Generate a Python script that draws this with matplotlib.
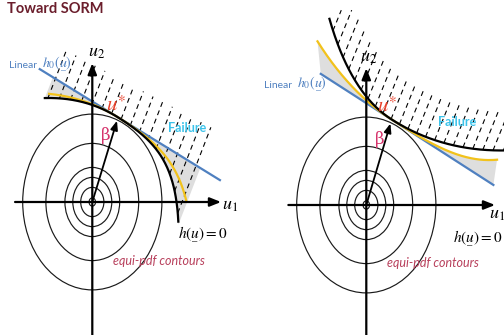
import numpy as np
import matplotlib.pyplot as plt
from matplotlib.patches import Ellipse, Polygon

plt.rcParams['mathtext.fontset'] = 'stix'
SANS = ['Lato', 'Liberation Sans', 'DejaVu Sans']

W, H = 504, 335
SX, SY = 23.2, 29.3          # pixels per unit of u1 and u2 (picture is squashed)

# equi-pdf contour radii (same in both panels)
radii = [3.0, 2.0, 1.18, 0.84, 0.5, 0.14]

# ---- left panel: h(u)=0 bends toward the origin
L_origin = (92.3, 202.0)
L_star = (3.1, 70.0)                 # |u*|, angle in degrees
L_normal = 64.0                      # normal direction of linear h0
L_beta = (2.97, 69.0)                # arrow length, angle
L_blue_t = (-3.7, 4.94)
L_black_t = (-3.07, 3.95)
L_black_k = (0.084, 0.040, 0.0059)   # t<0: k0 t^2 ; t>0: k1 t^2 + k2 t^4
L_yellow_t = (-2.97, 3.97)
L_yellow_k = (0.066, 0.027, 0.0035)
L_shade_t = (-3.07, 4.0)
L_hatch_t = (-2.95, 4.0, 0.45)
L_hatch_top = (1.24, 0.055)

# ---- right panel: h(u)=0 bends away from the origin
R_origin = (366.3, 205.0)
R_star = (3.12, 70.0)
R_normal = 63.0
R_beta = (2.97, 69.5)
R_blue_t = (-3.40, 4.95)
R_black_t = (-3.92, 4.9)
R_black_k = (0.12, 0.054, 0.0)
R_yellow_t = (-4.03, 4.7)
R_yellow_k = (0.057, 0.0115, 0.0012)
R_hatch_t = (-3.6, 4.8, 0.40)
R_hatch_len = 1.55
R_hatch_ymax = 6.65                  # dashes stop just under the top edge

BLUE = '#4f80c0'
YELLOW = '#f2c21b'
GRAY = '#dedede'


def offset(t, k):
    t = np.asarray(t, float)
    return np.where(t < 0, k[0] * t**2, k[1] * t**2 + k[2] * t**4)


def frame(star, normal):
    a, b = np.radians(star[1]), np.radians(normal)
    p = star[0] * np.array([np.cos(a), np.sin(a)])
    d = np.array([np.sin(b), -np.cos(b)])
    e = np.array([np.cos(b), np.sin(b)])
    return p, d, e


def to_u(fr, t, s):
    p, d, e = fr
    t = np.asarray(t, float)
    s = np.asarray(s, float)
    return p[0] + t * d[0] + s * e[0], p[1] + t * d[1] + s * e[1]


def arrow(ax, a, b, lw, hl=0.55, hw=0.22):
    ax.annotate('', xy=b, xytext=a,
                arrowprops=dict(arrowstyle='-|>,head_length=%g,head_width=%g' % (hl, hw),
                                lw=lw, color='k', shrinkA=0, shrinkB=0,
                                mutation_scale=12), zorder=6)


fig = plt.figure(figsize=(W / 100, H / 100), dpi=100)


def make_axes(x0, x1, origin):
    ox, oy = origin
    ax = fig.add_axes([x0 / W, 0, (x1 - x0) / W, 1])
    ax.set_xlim((x0 - ox) / SX, (x1 - ox) / SX)
    ax.set_ylim((oy - H) / SY, oy / SY)
    ax.axis('off')
    return ax


def base(ax, u1_span, u2_top, beta):
    for r in radii:
        ax.add_patch(Ellipse((0, 0), 2 * r, 2 * r, fill=False, lw=0.85,
                             ec='#1a1a1a', zorder=2))
    arrow(ax, (u1_span[0], 0), (u1_span[1], 0), 1.6)
    arrow(ax, (0, -6), (0, u2_top), 1.6)
    a = np.radians(beta[1])
    arrow(ax, (0, 0), (beta[0] * np.cos(a), beta[0] * np.sin(a)), 1.3, 0.45, 0.18)


def hatch(ax, fr, ts, s0, s1):
    for t, a, b in zip(ts, s0, s1):
        x, y = to_u(fr, [t, t], [a, b])
        ax.plot(x, y, color='k', lw=0.8, dashes=(4.5, 3.5), zorder=3)


# ---------------- left panel
axL = make_axes(0, 252, L_origin)
fL = frame(L_star, L_normal)
base(axL, (-3.33, 5.55), 4.74, L_beta)

t = np.linspace(*L_shade_t, 200)
bx, by = to_u(fL, t, 0 * t)
kx, ky = to_u(fL, t, -offset(t, L_black_k))
axL.add_patch(Polygon(np.column_stack([np.r_[bx, kx[::-1]], np.r_[by, ky[::-1]]]),
                      fc=GRAY, ec='none', zorder=1))

ht = np.arange(L_hatch_t[0], L_hatch_t[1] + 1e-9, L_hatch_t[2])
hatch(axL, fL, ht, -offset(ht, L_black_k), L_hatch_top[0] + L_hatch_top[1] * ht)

t = np.linspace(*L_blue_t, 2)
axL.plot(*to_u(fL, t, 0 * t), color=BLUE, lw=1.6, zorder=4)
t = np.linspace(*L_yellow_t, 300)
axL.plot(*to_u(fL, t, -offset(t, L_yellow_k)), color=YELLOW, lw=1.6, zorder=5)
t = np.linspace(*L_black_t, 300)
axL.plot(*to_u(fL, t, -offset(t, L_black_k)), color='k', lw=1.6, zorder=5)

# ---------------- right panel
axR = make_axes(252, 504, R_origin)
fR = frame(R_star, R_normal)
base(axR, (-3.36, 5.55), 4.67, R_beta)

ty = np.linspace(*R_yellow_t, 200)
tb = np.linspace(*R_blue_t, 200)
yx, yy = to_u(fR, ty, offset(ty, R_yellow_k))
bx, by = to_u(fR, tb, 0 * tb)
axR.add_patch(Polygon(np.column_stack([np.r_[yx, bx[::-1]], np.r_[yy, by[::-1]]]),
                      fc=GRAY, ec='none', zorder=1))

ht = np.arange(R_hatch_t[0], R_hatch_t[1] + 1e-9, R_hatch_t[2])
p, d, e = fR
s_cap = (R_hatch_ymax - p[1] - ht * d[1]) / e[1]
hatch(axR, fR, ht, offset(ht, R_black_k),
      np.minimum(offset(ht, R_black_k) + R_hatch_len, s_cap))

t = np.linspace(*R_blue_t, 2)
axR.plot(*to_u(fR, t, 0 * t), color=BLUE, lw=1.6, zorder=4)
t = np.linspace(*R_yellow_t, 300)
axR.plot(*to_u(fR, t, offset(t, R_yellow_k)), color=YELLOW, lw=1.6, zorder=5)
t = np.linspace(*R_black_t, 300)
axR.plot(*to_u(fR, t, offset(t, R_black_k)), color='k', lw=1.6, zorder=5)


# ---------------- text (pixel positions)
def label(x, y, s, **kw):
    fig.text(x / W, 1 - y / H, s, **kw)


U_ = r'\underset{\_}{u}'

label(7, 9, 'Toward SORM', fontsize=10.5, fontweight='bold', color='#6b1e2c',
      family=SANS, va='center')

panels = [
    dict(lin=(9, 68), h0=(42, 68), u2=(88, 57), u1=(222, 210), star=(106, 111),
         beta=(101, 135), fail=(168, 127.5), h=(178, 235), eq=(113, 261)),
    dict(lin=(264, 88), h0=(297, 88), u2=(360, 62), u1=(489, 219), star=(377, 112),
         beta=(375, 140), fail=(438, 121.5), h=(453, 238.5), eq=(387, 263)),
]
for pos in panels:
    label(*pos['lin'], 'Linear', fontsize=7.5, color=BLUE, family=SANS, va='baseline')
    label(*pos['h0'], r'$h_0(%s)$' % U_, fontsize=10, color=BLUE, va='baseline')
    label(*pos['u2'], r'$u_2$', fontsize=13, va='baseline')
    label(*pos['u1'], r'$u_1$', fontsize=13, va='baseline')
    label(*pos['star'], r'$u^{\ast}$', fontsize=15, color='#e8402a', va='baseline')
    label(*pos['beta'], '\u03b2', fontsize=12, color='#d6336c',
          family=['DejaVu Serif'], va='center')
    label(*pos['fail'], 'Failure', fontsize=9, fontweight='bold', color='#3cc3ea',
          family=SANS, va='center')
    label(*pos['h'], r'$h(%s)=0$' % U_, fontsize=11, va='center')
    label(*pos['eq'], 'equi-pdf contours', fontsize=9, style='italic', color='#b8405c',
          family=SANS, va='center')

fig.savefig('out.png', dpi=100)
